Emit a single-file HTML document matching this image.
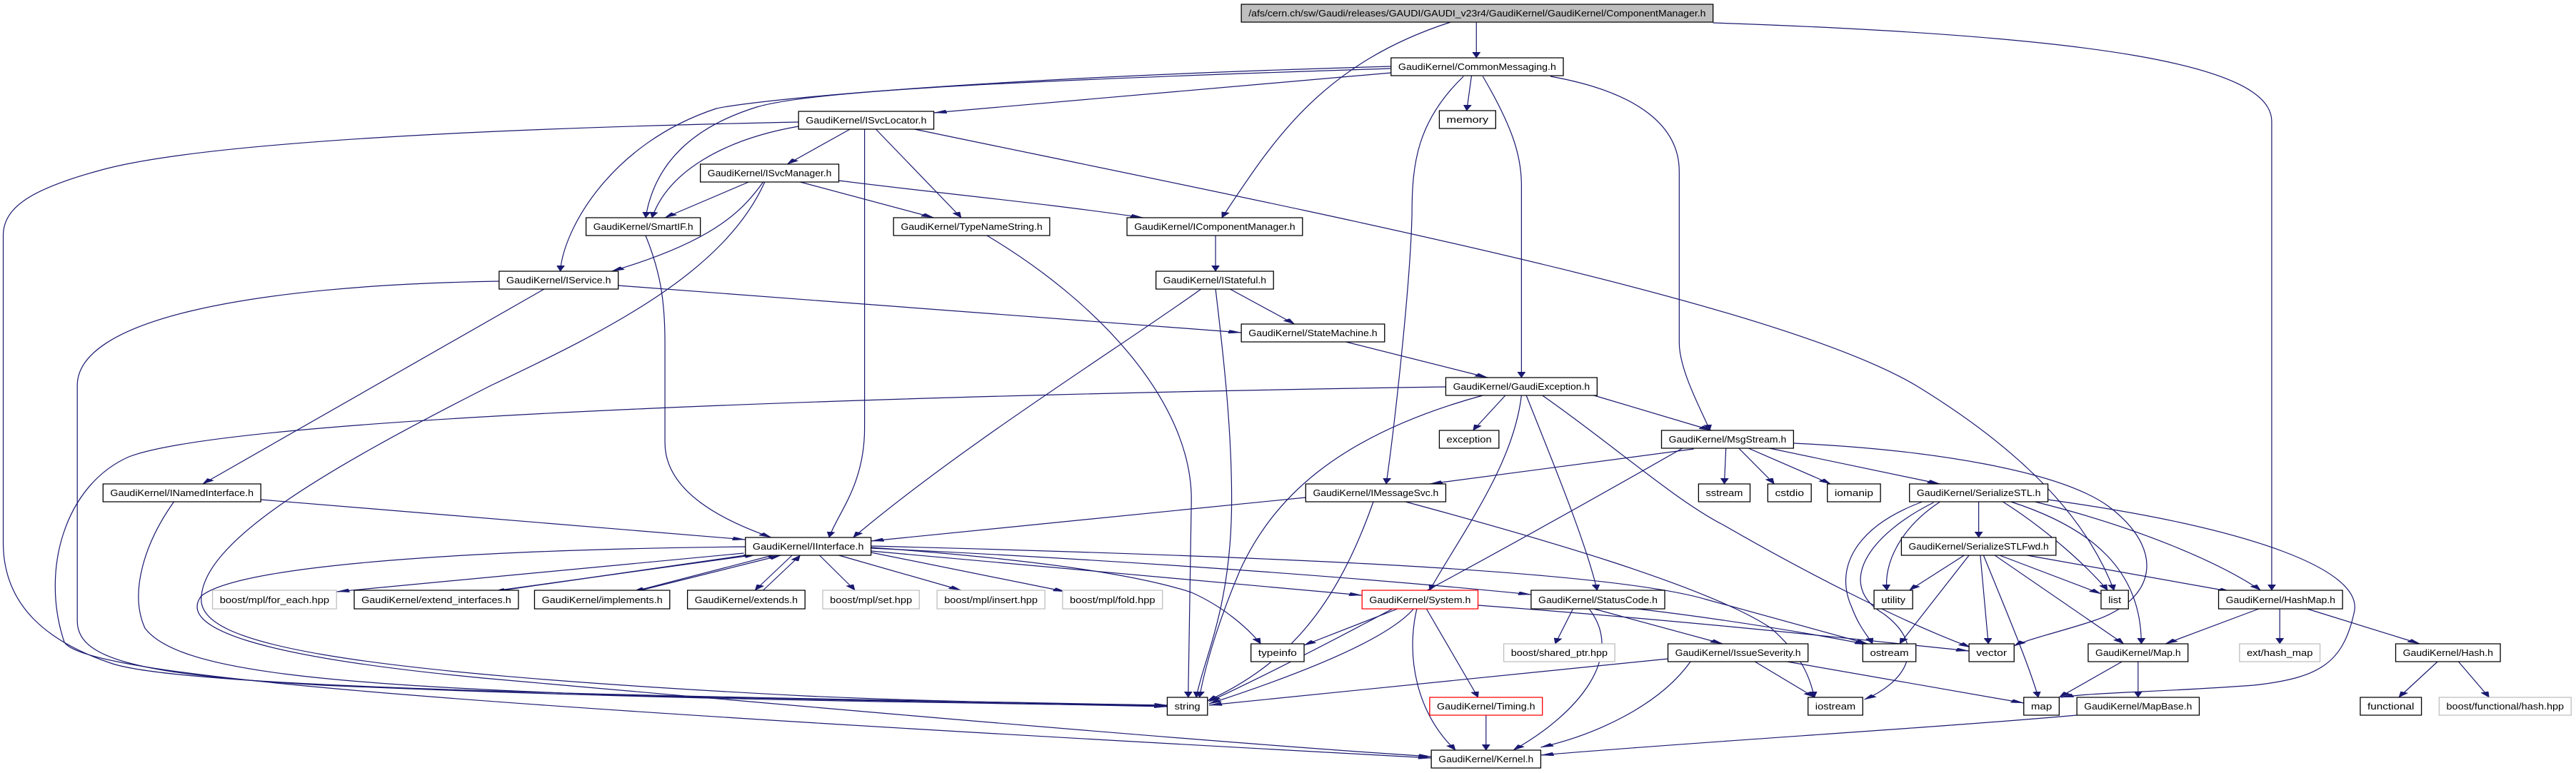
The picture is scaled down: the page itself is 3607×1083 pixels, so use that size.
<!DOCTYPE html>
<html><head><meta charset="utf-8"><style>
html,body{margin:0;padding:0;background:#fff;}
svg{display:block;}
.n rect{fill:#fff;stroke:#000;stroke-width:1.3;vector-effect:non-scaling-stroke;}
.g rect{stroke:#bfbfbf;}
.r rect{stroke:#ff0000;}
.root rect{fill:#bfbfbf;}
text{font-family:"Liberation Sans","DejaVu Sans",sans-serif;font-size:13px;fill:#000;}
path.e{fill:none;stroke:#191970;stroke-width:1.2;vector-effect:non-scaling-stroke;marker-end:url(#a);}
</style></head><body>
<svg width="3607" height="1083" viewBox="0 0 1600 1083" preserveAspectRatio="none" xmlns="http://www.w3.org/2000/svg">
<defs><marker id="a" markerUnits="userSpaceOnUse" markerWidth="8" markerHeight="5" refX="8" refY="2.5" orient="auto"><path d="M0,0 L8,2.5 L0,5 z" fill="#191970" stroke="#191970" stroke-width="0.3"/></marker></defs>
<g>
<path class="e" d="M917,31 L917,81"/>
<path class="e" d="M901,31 C820,90 790,200 759,305"/>
<path class="e" d="M1064,32 C1300,50 1411,90 1411,170 L1411,827"/>
<path class="e" d="M864,102 L580,158"/>
<path class="e" d="M864,96 C600,115 500,130 470,150 C420,185 405,250 401,305"/>
<path class="e" d="M864,93 C600,110 470,140 445,152 C380,200 350,320 348,380"/>
<path class="e" d="M914,106 L911,155"/>
<path class="e" d="M909,107 C880,170 877,230 877,300 C876,400 866,600 861,678"/>
<path class="e" d="M921,107 C940,180 945,220 945,260 L945,529"/>
<path class="e" d="M963,107 C1020,130 1043,180 1043,240 L1043,480 C1043,520 1058,580 1062,603"/>
<path class="e" d="M528,181 L489,230"/>
<path class="e" d="M496,177 C450,195 415,240 405,305"/>
<path class="e" d="M544,181 L597,305"/>
<path class="e" d="M537,181 L537,600 C537,680 520,720 515,753"/>
<path class="e" d="M496,171 C300,180 120,200 60,240 C20,265 2,290 2,330 L2,760 C2,850 30,900 70,930 C120,965 400,975 725,988"/>
<path class="e" d="M568,181 C800,290 1100,420 1190,540 C1270,650 1300,750 1313,827"/>
<path class="e" d="M465,255 L413,305"/>
<path class="e" d="M474,255 C460,300 440,340 380,380"/>
<path class="e" d="M497,255 L580,305"/>
<path class="e" d="M521,253 C580,270 650,285 710,305"/>
<path class="e" d="M475,255 C450,380 380,460 305,540 C200,660 125,760 125,840 C125,900 200,940 500,975 C600,985 700,987 725,989"/>
<path class="e" d="M401,330 C410,380 413,420 413,480 L413,620 C413,690 450,730 479,753"/>
<path class="e" d="M613,330 C680,420 740,560 740,700 L738,977"/>
<path class="e" d="M755,330 L755,380"/>
<path class="e" d="M764,405 L804,454"/>
<path class="e" d="M746,405 C700,480 600,620 530,753"/>
<path class="e" d="M755,405 C760,500 765,600 765,700 C765,850 748,920 743,977"/>
<path class="e" d="M836,479 L924,529"/>
<path class="e" d="M338,405 L126,678"/>
<path class="e" d="M384,400 L771,466"/>
<path class="e" d="M310,394 C150,400 48,450 48,540 L48,870 C48,920 80,945 200,960 C400,980 600,985 725,989"/>
<path class="e" d="M162,700 L463,756"/>
<path class="e" d="M108,703 C90,760 80,830 90,880 C110,940 200,960 400,975 C600,985 700,988 725,990"/>
<path class="e" d="M462,775 L209,829"/>
<path class="e" d="M466,777 L306,829"/>
<path class="e" d="M310,827 L470,777"/>
<path class="e" d="M480,778 L393,829"/>
<path class="e" d="M398,827 L485,778"/>
<path class="e" d="M492,778 L469,827"/>
<path class="e" d="M474,827 L497,778"/>
<path class="e" d="M509,778 L531,827"/>
<path class="e" d="M521,778 L597,827"/>
<path class="e" d="M541,774 L662,829"/>
<path class="e" d="M541,767 C620,780 700,800 740,830 C760,850 775,880 783,902"/>
<path class="e" d="M541,772 L846,834"/>
<path class="e" d="M541,768 C700,785 850,810 951,833"/>
<path class="e" d="M541,765 C800,780 1000,800 1060,840 C1100,865 1140,890 1160,902"/>
<path class="e" d="M463,766 C300,770 150,790 125,835 C110,880 160,920 300,950 C500,990 750,1040 889,1060"/>
<path class="e" d="M898,542 C600,552 150,580 80,640 C40,680 25,800 40,900 C55,950 300,990 889,1062"/>
<path class="e" d="M935,554 L915,603"/>
<path class="e" d="M990,554 L1063,603"/>
<path class="e" d="M945,554 C940,650 910,740 888,827"/>
<path class="e" d="M948,554 C965,650 985,760 992,827"/>
<path class="e" d="M921,554 C830,610 790,700 770,800 C755,880 748,940 745,977"/>
<path class="e" d="M958,554 C1000,620 1040,700 1070,735 C1120,800 1180,870 1224,907"/>
<path class="e" d="M1052,629 L888,678"/>
<path class="e" d="M1072,628 L1071,678"/>
<path class="e" d="M1080,628 L1102,678"/>
<path class="e" d="M1086,628 L1137,678"/>
<path class="e" d="M1099,628 L1205,678"/>
<path class="e" d="M1045,628 C950,750 830,900 751,983"/>
<path class="e" d="M1114,621 C1200,630 1280,660 1310,710 C1345,770 1340,840 1300,870 C1280,885 1260,895 1251,905"/>
<path class="e" d="M873,703 C950,750 1060,820 1100,880 C1120,920 1124,950 1127,977"/>
<path class="e" d="M811,697 L541,758"/>
<path class="e" d="M853,703 C830,850 800,930 750,982"/>
<path class="e" d="M868,853 L810,904"/>
<path class="e" d="M878,853 C860,900 800,950 751,986"/>
<path class="e" d="M880,853 C873,920 880,1000 904,1051"/>
<path class="e" d="M886,853 L918,977"/>
<path class="e" d="M918,848 C1050,870 1150,895 1223,912"/>
<path class="e" d="M977,853 L966,902"/>
<path class="e" d="M990,853 L1070,902"/>
<path class="e" d="M987,853 C1010,920 980,1000 940,1051"/>
<path class="e" d="M1017,853 C1080,870 1130,890 1160,903"/>
<path class="e" d="M923,1002 L923,1051"/>
<path class="e" d="M1036,923 L751,988"/>
<path class="e" d="M1050,927 C1030,990 990,1030 957,1047"/>
<path class="e" d="M1090,927 L1127,977"/>
<path class="e" d="M1110,927 L1257,985"/>
<path class="e" d="M1229,703 L1229,753"/>
<path class="e" d="M1194,703 C1150,740 1140,800 1150,850 C1155,880 1160,890 1163,902"/>
<path class="e" d="M1205,703 C1180,740 1170,790 1172,827"/>
<path class="e" d="M1201,704 C1160,750 1140,820 1170,860 C1200,910 1180,960 1158,980"/>
<path class="e" d="M1244,703 C1270,740 1295,790 1309,827"/>
<path class="e" d="M1249,703 C1300,740 1330,800 1330,902"/>
<path class="e" d="M1264,703 C1330,740 1380,790 1404,827"/>
<path class="e" d="M1272,700 C1400,740 1470,800 1462,860 C1455,930 1440,950 1400,960 C1340,970 1300,970 1280,977"/>
<path class="e" d="M1220,778 L1186,827"/>
<path class="e" d="M1223,778 L1180,902"/>
<path class="e" d="M1230,778 L1235,902"/>
<path class="e" d="M1232,778 C1245,850 1260,930 1266,977"/>
<path class="e" d="M1239,778 L1319,902"/>
<path class="e" d="M1242,778 L1305,832"/>
<path class="e" d="M1259,778 L1386,829"/>
<path class="e" d="M1403,853 L1345,902"/>
<path class="e" d="M1416,853 L1416,902"/>
<path class="e" d="M1433,853 L1503,902"/>
<path class="e" d="M1318,927 L1279,977"/>
<path class="e" d="M1328,927 L1328,977"/>
<path class="e" d="M1290,1002 C1200,1020 1050,1040 957,1058"/>
<path class="e" d="M1514,927 L1490,977"/>
<path class="e" d="M1527,927 L1546,977"/>
</g>
<g class="n root"><rect x="771" y="6" width="293" height="25"/><text x="775.5" y="23" textLength="284" lengthAdjust="spacingAndGlyphs">/afs/cern.ch/sw/Gaudi/releases/GAUDI/GAUDI_v23r4/GaudiKernel/GaudiKernel/ComponentManager.h</text></g>
<g class="n"><rect x="864" y="81" width="107" height="25"/><text x="868.5" y="98" textLength="98" lengthAdjust="spacingAndGlyphs">GaudiKernel/CommonMessaging.h</text></g>
<g class="n"><rect x="496" y="156" width="84" height="25"/><text x="500.5" y="173" textLength="75" lengthAdjust="spacingAndGlyphs">GaudiKernel/ISvcLocator.h</text></g>
<g class="n"><rect x="894" y="155" width="35" height="25"/><text x="898.5" y="172" textLength="26" lengthAdjust="spacingAndGlyphs">memory</text></g>
<g class="n"><rect x="435" y="230" width="86" height="25"/><text x="439.5" y="247" textLength="77" lengthAdjust="spacingAndGlyphs">GaudiKernel/ISvcManager.h</text></g>
<g class="n"><rect x="364" y="305" width="71" height="25"/><text x="368.5" y="322" textLength="62" lengthAdjust="spacingAndGlyphs">GaudiKernel/SmartIF.h</text></g>
<g class="n"><rect x="555" y="305" width="97" height="25"/><text x="559.5" y="322" textLength="88" lengthAdjust="spacingAndGlyphs">GaudiKernel/TypeNameString.h</text></g>
<g class="n"><rect x="700" y="305" width="109" height="25"/><text x="704.5" y="322" textLength="100" lengthAdjust="spacingAndGlyphs">GaudiKernel/IComponentManager.h</text></g>
<g class="n"><rect x="310" y="380" width="74" height="25"/><text x="314.5" y="397" textLength="65" lengthAdjust="spacingAndGlyphs">GaudiKernel/IService.h</text></g>
<g class="n"><rect x="718" y="380" width="73" height="25"/><text x="722.5" y="397" textLength="64" lengthAdjust="spacingAndGlyphs">GaudiKernel/IStateful.h</text></g>
<g class="n"><rect x="771" y="454" width="89" height="25"/><text x="775.5" y="471" textLength="80" lengthAdjust="spacingAndGlyphs">GaudiKernel/StateMachine.h</text></g>
<g class="n"><rect x="898" y="529" width="94" height="25"/><text x="902.5" y="546" textLength="85" lengthAdjust="spacingAndGlyphs">GaudiKernel/GaudiException.h</text></g>
<g class="n"><rect x="894" y="603" width="37" height="25"/><text x="898.5" y="620" textLength="28" lengthAdjust="spacingAndGlyphs">exception</text></g>
<g class="n"><rect x="1032" y="603" width="82" height="25"/><text x="1036.5" y="620" textLength="73" lengthAdjust="spacingAndGlyphs">GaudiKernel/MsgStream.h</text></g>
<g class="n"><rect x="64" y="678" width="98" height="25"/><text x="68.5" y="695" textLength="89" lengthAdjust="spacingAndGlyphs">GaudiKernel/INamedInterface.h</text></g>
<g class="n"><rect x="811" y="678" width="87" height="25"/><text x="815.5" y="695" textLength="78" lengthAdjust="spacingAndGlyphs">GaudiKernel/IMessageSvc.h</text></g>
<g class="n"><rect x="1055" y="678" width="32" height="25"/><text x="1059.5" y="695" textLength="23" lengthAdjust="spacingAndGlyphs">sstream</text></g>
<g class="n"><rect x="1098" y="678" width="27" height="25"/><text x="1102.5" y="695" textLength="18" lengthAdjust="spacingAndGlyphs">cstdio</text></g>
<g class="n"><rect x="1135" y="678" width="33" height="25"/><text x="1139.5" y="695" textLength="24" lengthAdjust="spacingAndGlyphs">iomanip</text></g>
<g class="n"><rect x="1186" y="678" width="86" height="25"/><text x="1190.5" y="695" textLength="77" lengthAdjust="spacingAndGlyphs">GaudiKernel/SerializeSTL.h</text></g>
<g class="n"><rect x="463" y="753" width="78" height="25"/><text x="467.5" y="770" textLength="69" lengthAdjust="spacingAndGlyphs">GaudiKernel/IInterface.h</text></g>
<g class="n"><rect x="1181" y="753" width="96" height="25"/><text x="1185.5" y="770" textLength="87" lengthAdjust="spacingAndGlyphs">GaudiKernel/SerializeSTLFwd.h</text></g>
<g class="n g"><rect x="132" y="827" width="77" height="26"/><text x="136.5" y="845" textLength="68" lengthAdjust="spacingAndGlyphs">boost/mpl/for_each.hpp</text></g>
<g class="n"><rect x="220" y="827" width="102" height="26"/><text x="224.5" y="845" textLength="93" lengthAdjust="spacingAndGlyphs">GaudiKernel/extend_interfaces.h</text></g>
<g class="n"><rect x="332" y="827" width="84" height="26"/><text x="336.5" y="845" textLength="75" lengthAdjust="spacingAndGlyphs">GaudiKernel/implements.h</text></g>
<g class="n"><rect x="427" y="827" width="73" height="26"/><text x="431.5" y="845" textLength="64" lengthAdjust="spacingAndGlyphs">GaudiKernel/extends.h</text></g>
<g class="n g"><rect x="511" y="827" width="60" height="26"/><text x="515.5" y="845" textLength="51" lengthAdjust="spacingAndGlyphs">boost/mpl/set.hpp</text></g>
<g class="n g"><rect x="582" y="827" width="67" height="26"/><text x="586.5" y="845" textLength="58" lengthAdjust="spacingAndGlyphs">boost/mpl/insert.hpp</text></g>
<g class="n g"><rect x="660" y="827" width="62" height="26"/><text x="664.5" y="845" textLength="53" lengthAdjust="spacingAndGlyphs">boost/mpl/fold.hpp</text></g>
<g class="n r"><rect x="846" y="827" width="72" height="26"/><text x="850.5" y="845" textLength="63" lengthAdjust="spacingAndGlyphs">GaudiKernel/System.h</text></g>
<g class="n"><rect x="951" y="827" width="83" height="26"/><text x="955.5" y="845" textLength="74" lengthAdjust="spacingAndGlyphs">GaudiKernel/StatusCode.h</text></g>
<g class="n"><rect x="1164" y="827" width="24" height="26"/><text x="1168.5" y="845" textLength="15" lengthAdjust="spacingAndGlyphs">utility</text></g>
<g class="n"><rect x="1305" y="827" width="17" height="26"/><text x="1309.5" y="845" textLength="8" lengthAdjust="spacingAndGlyphs">list</text></g>
<g class="n"><rect x="1378" y="827" width="77" height="26"/><text x="1382.5" y="845" textLength="68" lengthAdjust="spacingAndGlyphs">GaudiKernel/HashMap.h</text></g>
<g class="n"><rect x="777" y="902" width="33" height="25"/><text x="781.5" y="919" textLength="24" lengthAdjust="spacingAndGlyphs">typeinfo</text></g>
<g class="n g"><rect x="934" y="902" width="69" height="25"/><text x="938.5" y="919" textLength="60" lengthAdjust="spacingAndGlyphs">boost/shared_ptr.hpp</text></g>
<g class="n"><rect x="1036" y="902" width="87" height="25"/><text x="1040.5" y="919" textLength="78" lengthAdjust="spacingAndGlyphs">GaudiKernel/IssueSeverity.h</text></g>
<g class="n"><rect x="1157" y="902" width="33" height="25"/><text x="1161.5" y="919" textLength="24" lengthAdjust="spacingAndGlyphs">ostream</text></g>
<g class="n"><rect x="1223" y="902" width="28" height="25"/><text x="1227.5" y="919" textLength="19" lengthAdjust="spacingAndGlyphs">vector</text></g>
<g class="n"><rect x="1297" y="902" width="62" height="25"/><text x="1301.5" y="919" textLength="53" lengthAdjust="spacingAndGlyphs">GaudiKernel/Map.h</text></g>
<g class="n g"><rect x="1391" y="902" width="50" height="25"/><text x="1395.5" y="919" textLength="41" lengthAdjust="spacingAndGlyphs">ext/hash_map</text></g>
<g class="n"><rect x="1488" y="902" width="65" height="25"/><text x="1492.5" y="919" textLength="56" lengthAdjust="spacingAndGlyphs">GaudiKernel/Hash.h</text></g>
<g class="n"><rect x="725" y="977" width="25" height="25"/><text x="729.5" y="994" textLength="16" lengthAdjust="spacingAndGlyphs">string</text></g>
<g class="n r"><rect x="888" y="977" width="70" height="25"/><text x="892.5" y="994" textLength="61" lengthAdjust="spacingAndGlyphs">GaudiKernel/Timing.h</text></g>
<g class="n"><rect x="1123" y="977" width="34" height="25"/><text x="1127.5" y="994" textLength="25" lengthAdjust="spacingAndGlyphs">iostream</text></g>
<g class="n"><rect x="1257" y="977" width="22" height="25"/><text x="1261.5" y="994" textLength="13" lengthAdjust="spacingAndGlyphs">map</text></g>
<g class="n"><rect x="1290" y="977" width="76" height="25"/><text x="1294.5" y="994" textLength="67" lengthAdjust="spacingAndGlyphs">GaudiKernel/MapBase.h</text></g>
<g class="n"><rect x="1466" y="977" width="38" height="25"/><text x="1470.5" y="994" textLength="29" lengthAdjust="spacingAndGlyphs">functional</text></g>
<g class="n g"><rect x="1515" y="977" width="82" height="25"/><text x="1519.5" y="994" textLength="73" lengthAdjust="spacingAndGlyphs">boost/functional/hash.hpp</text></g>
<g class="n"><rect x="889" y="1051" width="68" height="25"/><text x="893.5" y="1068" textLength="59" lengthAdjust="spacingAndGlyphs">GaudiKernel/Kernel.h</text></g>
</svg>
</body></html>
